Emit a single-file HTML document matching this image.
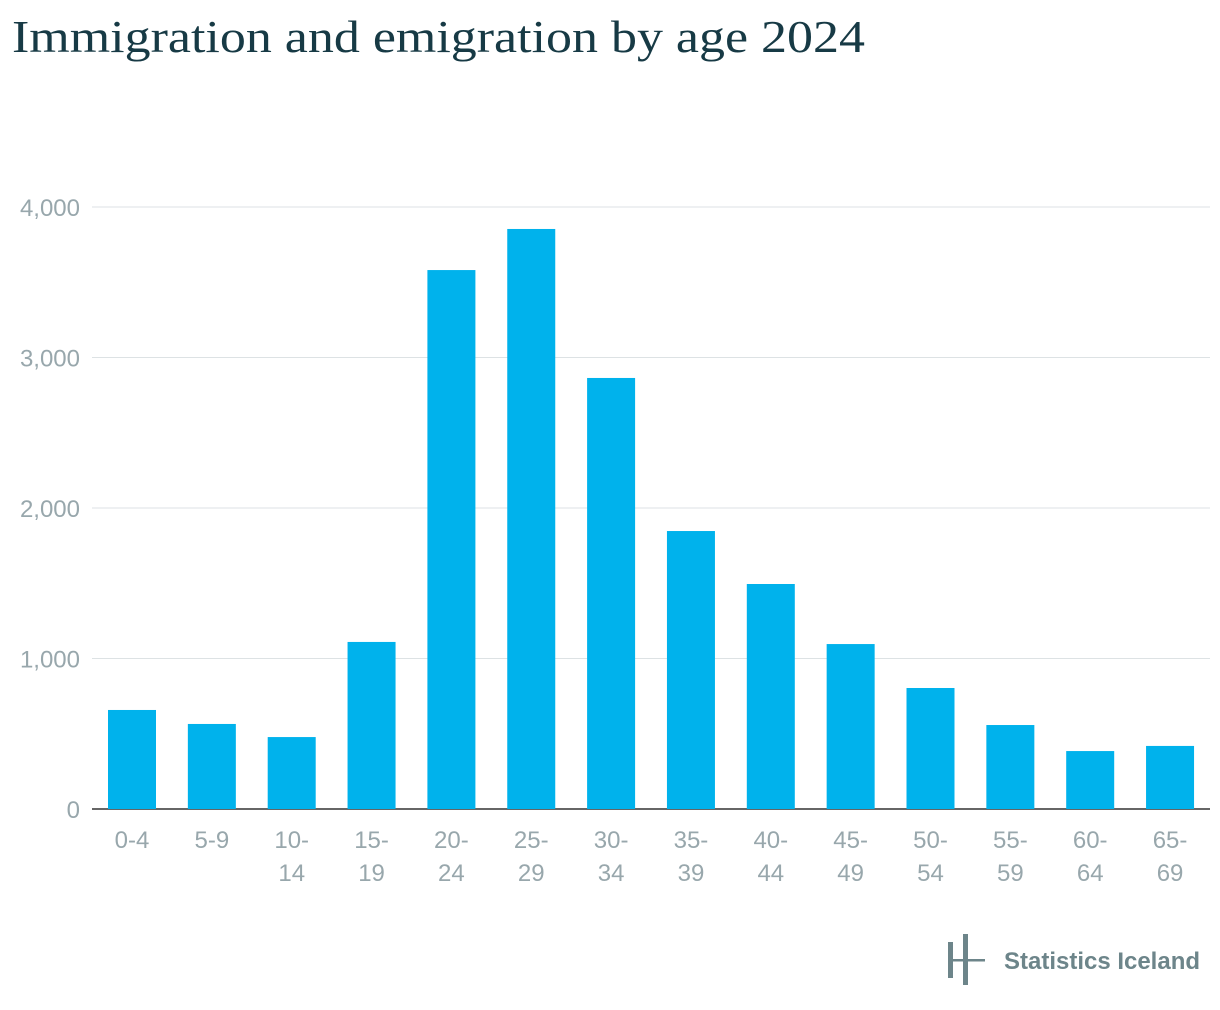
<!DOCTYPE html>
<html><head><meta charset="utf-8"><style>
body{margin:0;background:#fff;width:1220px;height:1010px;overflow:hidden}
svg{display:block}
</style></head><body>
<svg id="chart" width="1220" height="1010">
<text x="12" y="52" font-family="Liberation Serif, serif" font-size="46" fill="#173a45" textLength="853" lengthAdjust="spacingAndGlyphs">Immigration and emigration by age 2024</text>
<g id="grid"></g><g id="bars"></g><g id="xlabels"></g>
<g>
<rect x="948" y="942" width="5" height="36" fill="#6d858a"/>
<rect x="963" y="934" width="5" height="51" fill="#6d858a"/>
<rect x="948" y="959" width="37" height="2.5" fill="#6d858a"/>
<text x="1004" y="969" font-family="Liberation Sans, sans-serif" font-size="24" font-weight="bold" fill="#6d858a" textLength="196" lengthAdjust="spacingAndGlyphs">Statistics Iceland</text>
</g>
</svg>
<script>
const categories=[["0-4"],["5-9"],["10-","14"],["15-","19"],["20-","24"],["25-","29"],["30-","34"],["35-","39"],["40-","44"],["45-","49"],["50-","54"],["55-","59"],["60-","64"],["65-","69"]];
const values=[658,565,478,1110,3581,3854,2864,1847,1495,1096,804,558,385,419];
const yTicks=[0,1000,2000,3000,4000];
const yTickLabels=["0","1,000","2,000","3,000","4,000"];
const NS="http://www.w3.org/2000/svg";
const y0=809,pxPer=602/4000,band=79.85,barW=48,left=108-(band-barW)/2;
const y=v=>y0-v*pxPer;
const x=i=>left+i*band+(band-barW)/2;
function mk(t,a,p){const e=document.createElementNS(NS,t);for(const k in a)e.setAttribute(k,a[k]);p.appendChild(e);return e;}
const grid=document.getElementById('grid'),bars=document.getElementById('bars'),xl=document.getElementById('xlabels');
yTicks.forEach((t,i)=>{
 const l=mk('line',{x1:92,x2:1210,y1:y(t),y2:y(t),stroke:t===0?'#333':'#dde2e4','stroke-width':t===0?1.5:1},grid);
 
 
 const tx=mk('text',{x:80,y:y(t)+9,'text-anchor':'end','font-family':'Liberation Sans, sans-serif','font-size':24,fill:'#98a7ac'},grid);
 tx.textContent=yTickLabels[i];
 
 
});
values.forEach((v,i)=>{
 const r=mk('rect',{x:x(i),y:y(v),width:barW,height:v*pxPer,fill:'#00b2ec'},bars);
 
 
 const tx=mk('text',{x:x(i)+barW/2,y:848,'text-anchor':'middle','font-family':'Liberation Sans, sans-serif','font-size':24,fill:'#98a7ac'},xl);
 
 
 categories[i].forEach((s,j)=>{const ts=mk('tspan',{x:x(i)+barW/2,dy:j?33:0},tx);ts.textContent=s;});
});
</script>
</body></html>
